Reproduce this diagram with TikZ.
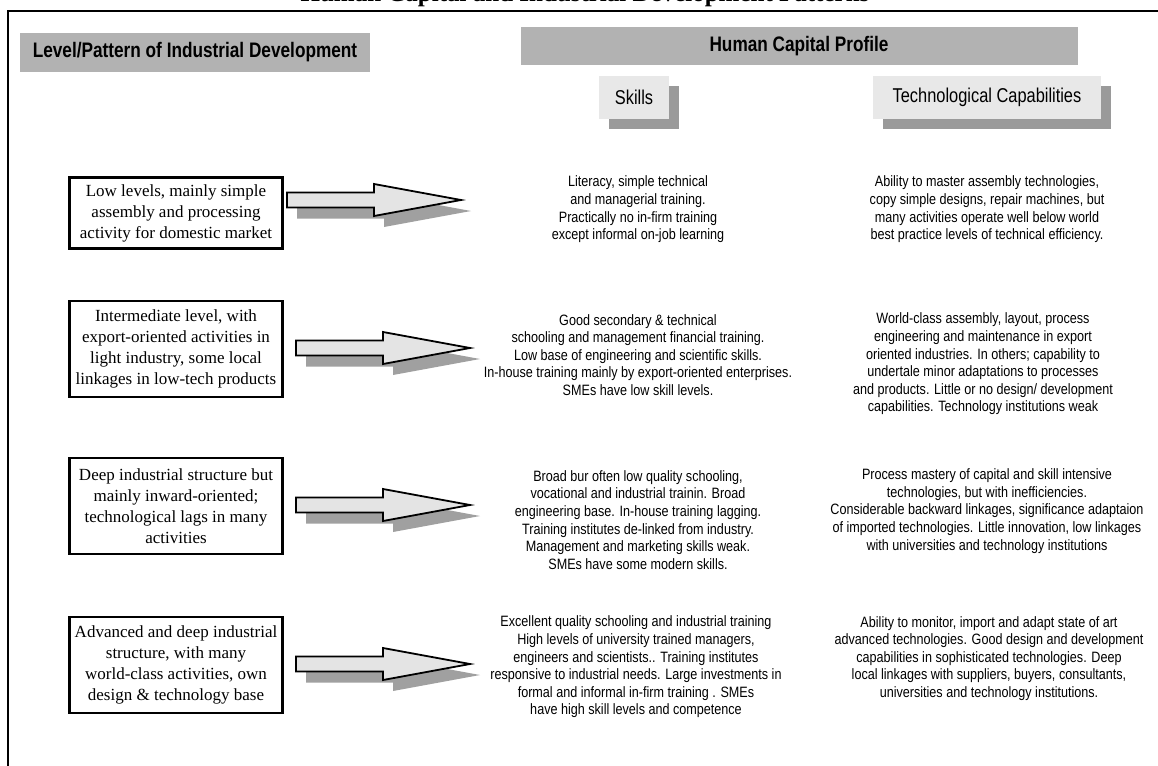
\documentclass[tikz,border=0pt]{standalone}
\usepackage{fontspec}
\setmainfont{Liberation Serif}
\newfontfamily\narrow[FakeStretch=0.82]{Liberation Sans}
\newfontfamily\narrowb[FakeStretch=0.84]{Liberation Sans}
\usetikzlibrary{shadows,calc}
\definecolor{hdrgray}{HTML}{B2B2B2}
\definecolor{subgray}{HTML}{E8E8E8}
\definecolor{shgray}{HTML}{9A9A9A}
\definecolor{arrfill}{HTML}{E4E4E4}
\definecolor{arrshadow}{HTML}{A0A0A0}
\begin{document}
\begin{tikzpicture}[x=1pt,y=-1pt,
  lvl/.style={draw=black,line width=2.3pt,fill=white,align=center,
    font=\fontsize{17}{21}\selectfont,inner sep=0pt,minimum width=213pt},
  desc/.style={align=center,font=\narrowb\fontsize{15}{17.6}\selectfont,inner sep=0pt},
  hdr/.style={fill=hdrgray,font=\narrow\bfseries\fontsize{21}{23}\selectfont,inner sep=0pt},
  sub/.style={fill=subgray,font=\narrow\fontsize{20}{23}\selectfont,inner sep=0pt,
    drop shadow={shadow xshift=10pt,shadow yshift=-10pt,fill=shgray,opacity=1}},
  blockarrow/.style={fill=arrfill,draw=black,line width=1.8pt,line join=miter},
  arrowshadow/.style={fill=arrshadow}
]
\useasboundingbox (0,0) rectangle (1158,765);
\fill[white] (0,0) rectangle (1158,765);

% frame
\draw[line width=2.5pt] (8,11) rectangle (1180,790);

% title (cut by the top edge)
\node[font=\bfseries\fontsize{25}{28}\selectfont,anchor=base,inner sep=0pt] (title) at (585,2)
  {Human Capital and Industrial Development Patterns};

% headers
\node[hdr,minimum width=350pt,minimum height=39pt] (lvlhdr) at (195,52.5)
  {Level/Pattern of Industrial Development};
\node[hdr,minimum width=557pt,minimum height=38pt] (hcp) at (799,46.5)
  {Human Capital Profile};
\node[sub,minimum width=70pt,minimum height=43pt] (skills) at (634,97.5) {Skills};
\node[sub,minimum width=228pt,minimum height=43pt] (tech) at (987,97.5) {Technological Capabilities};

% level boxes
\node[lvl,minimum height=71pt] (l1) at (176,213)
  {Low levels, mainly simple\\assembly and processing\\activity for domestic market};
\node[lvl,minimum height=96pt] (l2) at (176,349)
  {Intermediate level, with\\export-oriented activities in\\light industry, some local\\linkages in low-tech products};
\node[lvl,minimum height=96pt] (l3) at (176,506)
  {Deep industrial structure but\\mainly inward-oriented;\\technological lags in many\\activities};
\node[lvl,minimum height=96pt] (l4) at (176,665)
  {Advanced and deep industrial\\structure, with many\\world-class activities, own\\design \& technology base};

% block arrows
\foreach \n/\x/\y in {1/287/200, 2/296/348, 3/296/505, 4/296/664}{
  \coordinate (a\n) at (\x,\y);
  \fill[arrowshadow] ($(a\n)+(10,11)$) -- ++(0,-7.5) -- ++(87,0) -- ++(0,-8.5) -- ++(87,16)
     -- ++(-87,16) -- ++(0,-8.5) -- ++(-87,0) -- cycle;
  \draw[blockarrow] (a\n) -- ++(0,-7.5) -- ++(87,0) -- ++(0,-8.5) -- ++(87,16)
     -- ++(-87,16) -- ++(0,-8.5) -- ++(-87,0) -- cycle;
}

% skills column
\node[desc] (s1) at (638,209.5)
  {Literacy, simple technical\\and managerial training.\\Practically no in-firm training\\except informal on-job learning};
\node[desc] (s2) at (638,355)
  {Good secondary \&  technical\\schooling and management financial training.\\Low base of engineering and scientific skills.\\In-house training mainly by export-oriented enterprises.\\SMEs have low skill levels.};
\node[desc] (s3) at (638,520)
  {Broad bur often low quality schooling,\\vocational and industrial trainin. Broad\\engineering base. In-house training lagging.\\Training institutes de-linked from industry.\\Management and marketing skills weak.\\SMEs have some modern skills.};
\node[desc] (s4) at (636,667)
  {Excellent quality schooling and industrial training\\High levels of university trained managers,\\engineers and scientists.. Training institutes\\responsive to industrial needs. Large investments in\\formal and informal in-firm training . SMEs\\have high skill levels and competence};

% technology column
\node[desc] (t1) at (987,209.5)
  {Ability to master assembly technologies,\\copy simple designs, repair machines, but\\many activities operate well below world\\best practice levels of technical efficiency.};
\node[desc] (t2) at (983,364)
  {World-class assembly, layout, process\\engineering and maintenance in export\\oriented industries. In others; capability to\\undertale minor adaptations to processes\\and products. Little or no design/ development\\capabilities. Technology institutions weak};
\node[desc] (t3) at (987,511)
  {Process mastery of capital and skill intensive\\technologies, but with inefficiencies.\\Considerable backward linkages, significance adaptaion\\of imported technologies. Little innovation, low linkages\\with universities and technology institutions};
\node[desc] (t4) at (989,658.5)
  {Ability to monitor, import and adapt state of art\\advanced technologies. Good design and development\\capabilities in sophisticated technologies. Deep\\local linkages with suppliers, buyers, consultants,\\universities and technology institutions.};
\end{tikzpicture}
\end{document}
